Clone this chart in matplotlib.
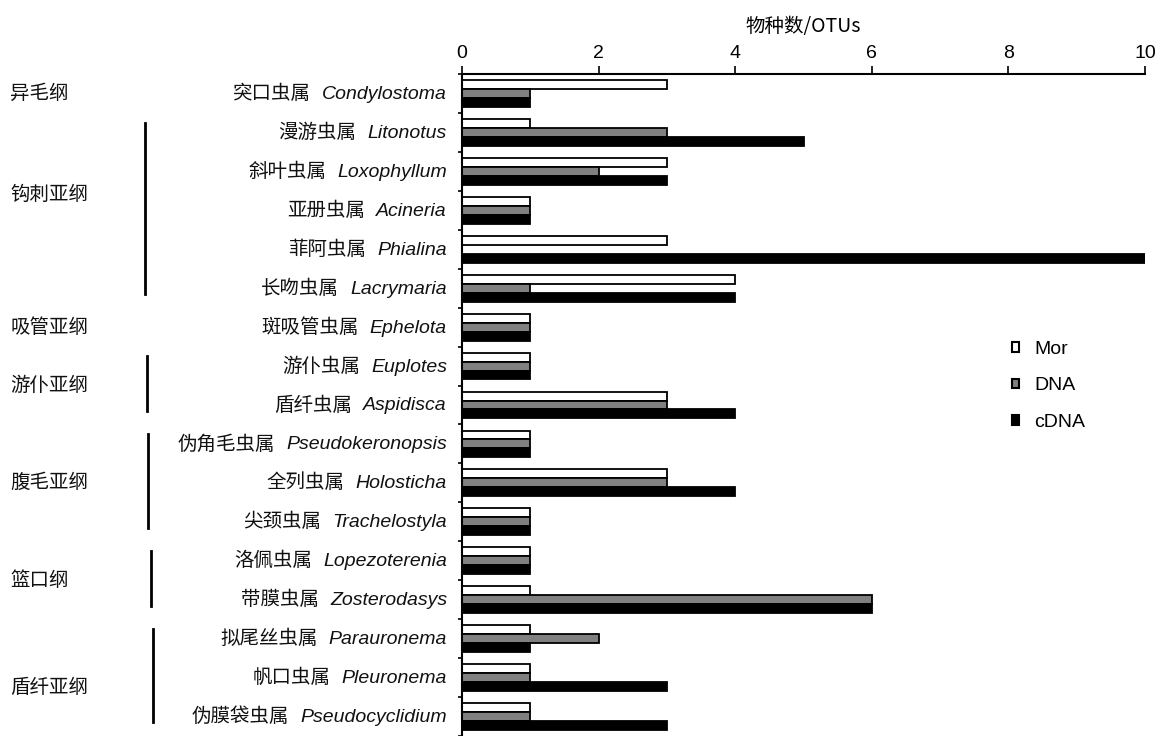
import matplotlib
matplotlib.use("Agg")
import matplotlib.pyplot as plt
from matplotlib.offsetbox import TextArea, HPacker, AnnotationBbox
from matplotlib.transforms import blended_transform_factory
from matplotlib.lines import Line2D
from matplotlib.patches import Patch
import numpy as np

# ---------------- data ----------------
genus_cn = ["突口虫属", "漫游虫属", "斜叶虫属", "亚册虫属", "菲阿虫属", "长吻虫属",
            "斑吸管虫属", "游仆虫属", "盾纤虫属", "伪角毛虫属", "全列虫属", "尖颈虫属",
            "洛佩虫属", "带膜虫属", "拟尾丝虫属", "帆口虫属", "伪膜袋虫属"]
genus_la = ["Condylostoma", "Litonotus", "Loxophyllum", "Acineria", "Phialina", "Lacrymaria",
            "Ephelota", "Euplotes", "Aspidisca", "Pseudokeronopsis", "Holosticha", "Trachelostyla",
            "Lopezoterenia", "Zosterodasys", "Parauronema", "Pleuronema", "Pseudocyclidium"]
mor  = [3, 1, 3, 1, 3, 4, 1, 1, 3, 1, 3, 1, 1, 1, 1, 1, 1]
dna  = [1, 3, 2, 1, 0, 1, 1, 1, 3, 1, 3, 1, 1, 6, 2, 1, 1]
cdna = [1, 5, 3, 1, 10, 4, 1, 1, 4, 1, 4, 1, 1, 6, 1, 3, 3]
series_names = ["Mor", "DNA", "cDNA"]

group_names = ["异毛纲", "钩刺亚纲", "吸管亚纲", "游仆亚纲", "腹毛亚纲", "篮口纲", "盾纤亚纲"]
group_first = [0, 1, 6, 7, 9, 12, 14]
group_last  = [0, 5, 6, 8, 11, 13, 16]
group_label_pos = [0, 2.6, 6, 7.5, 10, 12.5, 15.25]
group_has_line = [False, True, False, True, True, True, True]
group_line_x = [0, 145, 0, 147, 148, 151, 153]   # pixels

xticks = [0, 2, 4, 6, 8, 10]
xlabel = "物种数/OTUs"

# ---------------- figure ----------------
W, H = 1158, 736
fig = plt.figure(figsize=(W / 100, H / 100), dpi=100)
ax = fig.add_axes([462 / W, 0.0, (1145 - 462) / W, 1 - 74 / H])

CJK = ["Noto Sans CJK SC", "Liberation Sans", "DejaVu Sans"]
LAT = ["Liberation Sans", "DejaVu Sans"]
FS = 14

n = len(genus_cn)
y = np.arange(n)
h = 0.23
ax.barh(y - h, mor, height=h, color="white", edgecolor="black", linewidth=1.3, label=series_names[0])
ax.barh(y, dna, height=h, color="#808080", edgecolor="black", linewidth=1.3, label=series_names[1])
ax.barh(y + h, cdna, height=h, color="black", edgecolor="black", linewidth=1.3, label=series_names[2])

ax.set_xlim(0, 10)
ax.set_ylim(n - 0.5, -0.5)
ax.xaxis.tick_top()
ax.xaxis.set_label_position("top")
ax.set_xticks(xticks)
ax.set_xticklabels([str(t) for t in xticks], fontsize=FS, family=LAT)
ax.tick_params(axis="x", direction="out", length=6, width=1.2, pad=3)
ax.set_xlabel(xlabel, fontsize=FS, family=CJK, labelpad=9)

ax.set_yticks(np.arange(n + 1) - 0.5)
ax.set_yticklabels([])
ax.tick_params(axis="y", direction="out", length=3, width=1.2)
for s in ["right", "bottom"]:
    ax.spines[s].set_visible(False)
for s in ["top", "left"]:
    ax.spines[s].set_linewidth(1.5)

# category labels: Chinese + italic Latin
tr = blended_transform_factory(fig.transFigure, ax.transData)
for i in range(n):
    t1 = TextArea(genus_cn[i], textprops=dict(family=CJK, size=FS, color="#111111"))
    t2 = TextArea(genus_la[i], textprops=dict(family=LAT, style="italic", size=FS, color="#111111"))
    box = HPacker(children=[t1, t2], align="baseline", pad=0, sep=8)
    ab = AnnotationBbox(box, (447 / W, i), xycoords=tr, box_alignment=(1, 0.5),
                        frameon=False, pad=0, annotation_clip=False)
    fig.add_artist(ab)

# group labels and lines
for k, name in enumerate(group_names):
    txt = fig.text(10 / W, 0, name, transform=tr, family=CJK, fontsize=FS, color="#111111",
                   ha="left", va="center")
    txt.set_position((10 / W, group_label_pos[k]))
    if group_has_line[k]:
        fig.add_artist(Line2D([group_line_x[k] / W] * 2,
                              [group_first[k] - 0.25, group_last[k] + 0.15],
                              transform=tr, color="black", linewidth=2))

# legend
handles = [Patch(facecolor=c, edgecolor="black", linewidth=1.5) for c in ["white", "#808080", "black"]]
fig.legend(handles, series_names, loc="upper left", bbox_to_anchor=(1012 / W, 1 - 341 / H),
           frameon=False, prop=dict(family=LAT, size=FS), handlelength=0.38, handleheight=0.38,
           handletextpad=0.75, labelspacing=1.0, borderpad=0, borderaxespad=0)

fig.savefig("out.png", dpi=100)
